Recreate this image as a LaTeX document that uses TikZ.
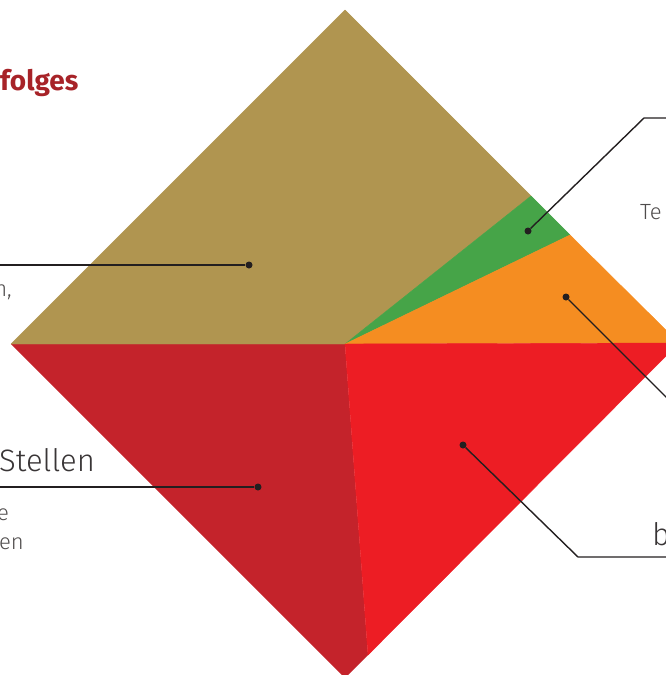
\documentclass[tikz,border=0pt]{standalone}
\usepackage{fontspec}
\setmainfont{Fira Sans Light}
\newfontfamily\headfont{Fira Sans Bold}
\usetikzlibrary{positioning}

\definecolor{khaki}{RGB}{176,149,80}
\definecolor{leafgreen}{RGB}{70,164,72}
\definecolor{amber}{RGB}{245,141,33}
\definecolor{signalred}{RGB}{237,29,36}
\definecolor{darkred}{RGB}{196,35,43}
\definecolor{headred}{RGB}{167,35,40}
\definecolor{ink}{RGB}{35,31,32}

\begin{document}
\begin{tikzpicture}[x=1pt,y=-1pt,
part/.style={fill=#1,draw=#1,line width=0.4pt,line join=round},
callout/.style={draw=ink,line width=1.4pt},
dot/.style={circle,fill=ink,inner sep=0pt,minimum size=7pt},
head/.style={font=\headfont\fontsize{28}{32}\selectfont,text=headred,inner sep=0pt},
big/.style={font=\fontsize{31}{36}\selectfont,text=ink!90,inner sep=0pt},
small/.style={font=\fontsize{22}{26}\selectfont,text=ink!80,inner sep=0pt} ]

\useasboundingbox (0,0) rectangle (666,675);
\clip (0,0) rectangle (666,675);

% corners of the diamond
\coordinate (T) at (345,10);
\coordinate (L) at (11,344);
\coordinate (B) at (345,678);
\coordinate (R) at (679,343);
\coordinate (C) at (345,344);
\coordinate (G1) at (531,196);
\coordinate (G2) at (570,235);
\coordinate (S) at (368,655);

% segments
\fill[darkred] (L) -- (C) -- (S) -- (B) -- cycle;
\path[part=khaki] (L) -- (T) -- (G1) -- (C) -- cycle;
\path[part=leafgreen] (C) -- (G1) -- (G2) -- cycle;
\path[part=amber] (C) -- (G2) -- (R) -- cycle;
\path[part=signalred] (C) -- (R) -- (S) -- cycle;

% texts
\node[head,anchor=base west](title) at (0,90) {folges};
\node[small,anchor=base east](textA) at (12,296) {n,};
\node[big,anchor=base west](textB) at (-1,471) {Stellen};
\node[small,anchor=base east](textB1) at (9,520) {e};
\node[small,anchor=base east](textB2) at (24,549) {en};
\node[small,anchor=base west](textG) at (640,219) {Te};
\node[big,anchor=base west](textR) at (652,545) {b};

% callouts
\node[dot](dotA) at (249,265) {};
\node[dot](dotB) at (258,487) {};
\node[dot](dotG) at (528,231) {};
\node[dot](dotO) at (566,297) {};
\node[dot](dotR) at (463,445) {};

\coordinate (endA) at (-5,265);
\coordinate (endB) at (-5,487);
\coordinate (kneeG) at (644,118);
\coordinate (endG) at (672,118);
\coordinate (endO) at (700,431);
\coordinate (kneeR) at (578,557);
\coordinate (endR) at (672,557);

\draw[callout] (endA) -- (dotA);
\draw[callout] (endB) -- (dotB);
\draw[callout] (dotG) -- (kneeG) -- (endG);
\draw[callout] (dotO) -- (endO);
\draw[callout] (dotR) -- (kneeR) -- (endR);

\end{tikzpicture}
\end{document}
